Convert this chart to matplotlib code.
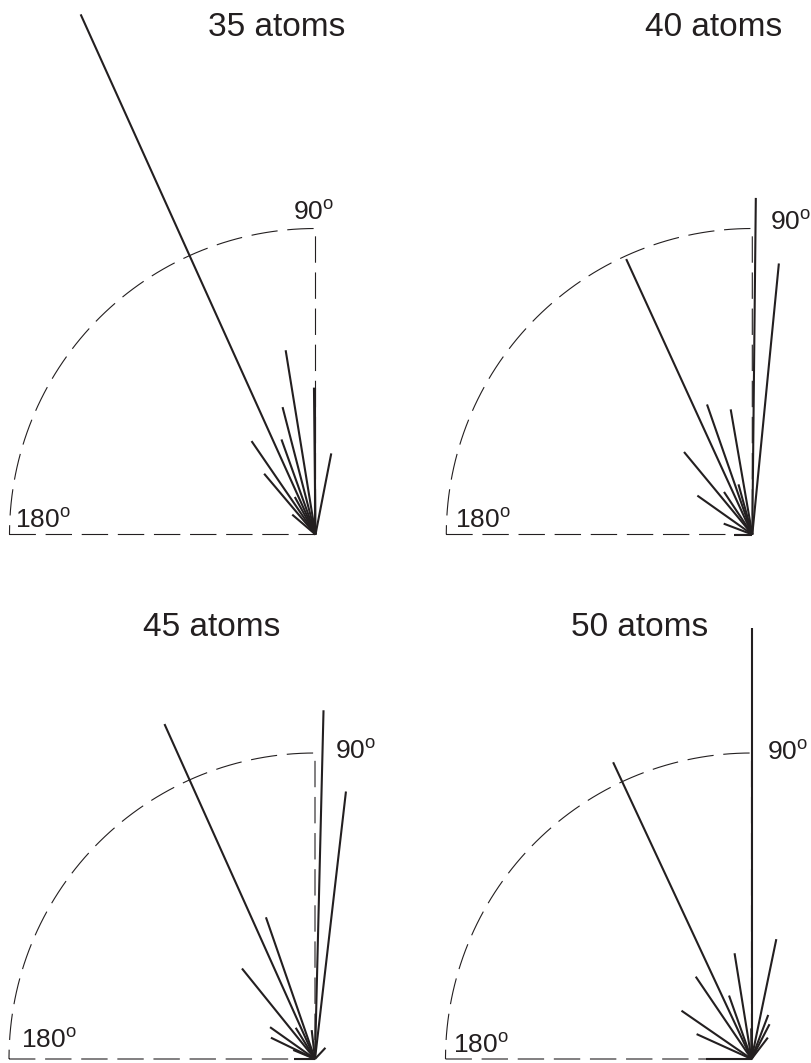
# -*- coding: utf-8 -*-
"""
Bond-angle "fan" diagrams for clusters of 35, 40, 45 and 50 atoms.
Each solid line is one angle (deg) drawn from the origin with a length
given relative to the dashed reference quarter circle (radius 1).
"""

import numpy as np
import matplotlib.pyplot as plt

# =============================================================================
# Data
# =============================================================================
TITLES = ["35 atoms", "40 atoms", "45 atoms", "50 atoms"]

ANGLES_35 = [114.3, 90.0, 90.6, 99.2, 104.5, 109.7, 124.4, 130.2, 79.0, 118.9, 139.5]
LENGTHS_35 = [1.865, 0.48, 0.48, 0.61, 0.43, 0.33, 0.37, 0.26, 0.27, 0.14, 0.10]

ANGLES_40 = [114.6, 89.4, 84.4, 109.2, 99.8, 129.6, 144.7, 105.4, 123.6, 159.2, 180.0]
LENGTHS_40 = [0.99, 1.10, 0.89, 0.45, 0.415, 0.35, 0.22, 0.17, 0.167, 0.10, 0.06]

ANGLES_45 = [114.2, 88.6, 83.4, 109.1, 128.9, 144.7, 154.2, 121.7, 96.5, 47.0, 157.5, 180.0]
LENGTHS_45 = [1.20, 1.14, 0.88, 0.49, 0.38, 0.18, 0.16, 0.12, 0.095, 0.05, 0.077, 0.07]

ANGLES_50 = [115.0, 90.0, 78.3, 99.1, 124.1, 109.5, 145.4, 155.6, 69.2, 62.6, 52.6, 90.5, 180.0]
LENGTHS_50 = [1.07, 1.41, 0.40, 0.35, 0.325, 0.22, 0.278, 0.197, 0.154, 0.128, 0.088, 0.10, 0.15]

ANGLES = [ANGLES_35, ANGLES_40, ANGLES_45, ANGLES_50]
LENGTHS = [LENGTHS_35, LENGTHS_40, LENGTHS_45, LENGTHS_50]

# =============================================================================
# Layout / style
# =============================================================================
W, H = 812, 1063
R_PX = 306
ORIGINS_PX = [(315.5, 534.5), (752.3, 534.5), (315.0, 1059.0), (751.5, 1059.0)]
XLIM = (-1.05, 0.18)
YLIM = (-0.012, 1.71)

TITLE_POS = [(-0.126, 1.658), (-0.128, 1.658), (-0.337, 1.41), (-0.364, 1.41)]
LABEL90_POS = [(-0.074, 1.03), (0.058, 0.995), (0.065, 0.98), (0.05, 0.977)]
LABEL180_POS = [(-0.982, 0.021), (-0.972, 0.022), (-0.962, 0.036), (-0.975, 0.02)]

INK = "#231f20"

plt.rcParams.update(
    {
        "font.family": ["Liberation Sans", "DejaVu Sans"],
        "mathtext.fontset": "custom",
        "mathtext.rm": "Liberation Sans",
        "lines.scale_dashes": False,
    }
)


def panel_axes(fig, ox, oy):
    left = (ox + XLIM[0] * R_PX) / W
    width = (XLIM[1] - XLIM[0]) * R_PX / W
    bottom = (H - (oy - YLIM[0] * R_PX)) / H
    height = (YLIM[1] - YLIM[0]) * R_PX / H
    ax = fig.add_axes([left, bottom, width, height])
    ax.set_xlim(*XLIM)
    ax.set_ylim(*YLIM)
    ax.axis("off")
    return ax


def draw_panel(ax, i):
    # dashed reference frame: bottom axis, vertical axis and quarter arc
    t = np.radians(np.linspace(90, 180, 200))
    fx = np.concatenate([[-1.0, 0.0, 0.0], np.cos(t)])
    fy = np.concatenate([[0.0, 0.0, 1.0], np.sin(t)])
    ax.plot(fx, fy, color=INK, lw=0.8, linestyle=(0, (19, 7)), clip_on=False)

    ang = np.radians(ANGLES[i])
    ln = np.asarray(LENGTHS[i])
    for a, l in zip(ang, ln):
        ax.plot([0, l * np.cos(a)], [0, l * np.sin(a)], color=INK, lw=1.5,
                solid_capstyle="butt", clip_on=False)

    ax.text(*TITLE_POS[i], TITLES[i], ha="center", va="center",
            fontsize=24, color=INK)
    ax.text(*LABEL90_POS[i], r"90$^{\mathrm{o}}$", ha="left", va="baseline",
            fontsize=19, color=INK)
    ax.text(*LABEL180_POS[i], r"180$^{\mathrm{o}}$", ha="left", va="baseline",
            fontsize=19, color=INK)


fig = plt.figure(figsize=(W / 100, H / 100), dpi=100, facecolor="white")
for i, (ox, oy) in enumerate(ORIGINS_PX):
    ax = panel_axes(fig, ox, oy)
    draw_panel(ax, i)

fig.savefig("out.png", dpi=100, facecolor="white")
plt.close(fig)
